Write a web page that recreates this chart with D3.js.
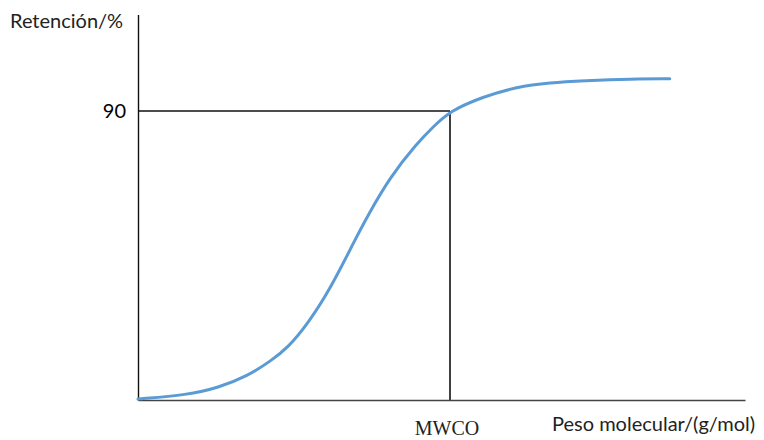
<!DOCTYPE html>
<html>
<head>
<meta charset="utf-8">
<script src="https://cdn.jsdelivr.net/npm/d3@7"></script>
<style>
  body { margin: 0; background: #fff; }
  svg { display: block; }
</style>
</head>
<body>
<div id="container"></div>
<script>
// retention curve (x in relative molecular-weight units)
var pesoMolecular = [0, 8.2, 13.2, 18.1, 21.9, 24.7, 28.0, 31.8, 35.7, 37.7, 41.5, 46.0, 48.6, 51.4, 56.8, 62.4, 67.9, 73.3, 81.5, 87.6];
var retencion     = [0.3, 1.6, 3.8, 7.5, 12.2, 16.3, 23.8, 35.0, 49.7, 56.9, 69.4, 80.0, 85.0, 90, 94.4, 97.5, 98.8, 99.4, 100, 100];
var mwco = 51.4;
var yTicks = [90];
var labels = { y: "Retención/%", x: "Peso molecular/(g/mol)", mwco: "MWCO" };

var width = 764, height = 440;
var plotLeft = 138, plotRight = 745, plotTop = 14, plotBottom = 400;

var x = d3.scaleLinear().domain([0, 100]).range([plotLeft, plotRight]);
var y = d3.scaleLinear().domain([0, 120]).range([plotBottom, plotTop + 0.6]);

var svg = d3.select("#container").append("svg")
            .attr("width", width)
            .attr("height", height);

var data = pesoMolecular.map(function (d, i) { return { x: d, y: retencion[i] }; });

// 90% guide lines
svg.append("line")
   .attr("x1", x(0)).attr("x2", x(mwco))
   .attr("y1", y(90)).attr("y2", y(90))
   .attr("stroke", "#111").attr("stroke-width", 1.6);
svg.append("line")
   .attr("x1", x(mwco)).attr("x2", x(mwco))
   .attr("y1", y(90)).attr("y2", plotBottom)
   .attr("stroke", "#111").attr("stroke-width", 1.6);

// axes
svg.append("g")
   .attr("transform", "translate(0," + plotBottom + ")")
   .call(d3.axisBottom(x).tickValues([]).tickSizeOuter(0))
   .call(function (g) { g.select(".domain").attr("stroke", "#444").attr("stroke-width", 1.6); });

svg.append("g")
   .attr("transform", "translate(" + plotLeft + ",0)")
   .call(d3.axisLeft(y).tickValues([]).tickSizeOuter(0))
   .call(function (g) { g.select(".domain").attr("stroke", "#111").attr("stroke-width", 1.4); });

// curve
var line = d3.line()
             .x(function (d) { return x(d.x); })
             .y(function (d) { return y(d.y); })
             .curve(d3.curveBasis);

svg.append("path")
   .datum(data)
   .attr("d", line)
   .attr("fill", "none")
   .attr("stroke", "#5b9bd5")
   .attr("stroke-width", 3)
   .attr("stroke-linecap", "round");

// text
svg.selectAll("text.ytick")
   .data(yTicks)
   .enter()
   .append("text")
   .attr("class", "ytick")
   .attr("x", 126)
   .attr("y", function (d) { return y(d) + 7; })
   .attr("text-anchor", "end")
   .style("font-family", "Lato, 'Open Sans', sans-serif")
   .style("font-size", "20px")
   .attr("fill", "#000")
   .text(function (d) { return d; });

svg.append("text")
   .attr("x", 10).attr("y", 28)
   .style("font-family", "Lato, 'Open Sans', sans-serif")
   .style("font-size", "20px")
   .attr("fill", "#222")
   .text(labels.y);

svg.append("text")
   .attr("x", 552).attr("y", 431)
   .style("font-family", "Lato, 'Open Sans', sans-serif")
   .style("font-size", "20px")
   .attr("fill", "#222")
   .text(labels.x);

svg.append("text")
   .attr("x", x(mwco) - 3).attr("y", 435)
   .attr("text-anchor", "middle")
   .style("font-family", "'Liberation Serif', 'Times New Roman', serif")
   .style("font-size", "20px")
   .attr("fill", "#222")
   .text(labels.mwco);
</script>
</body>
</html>
